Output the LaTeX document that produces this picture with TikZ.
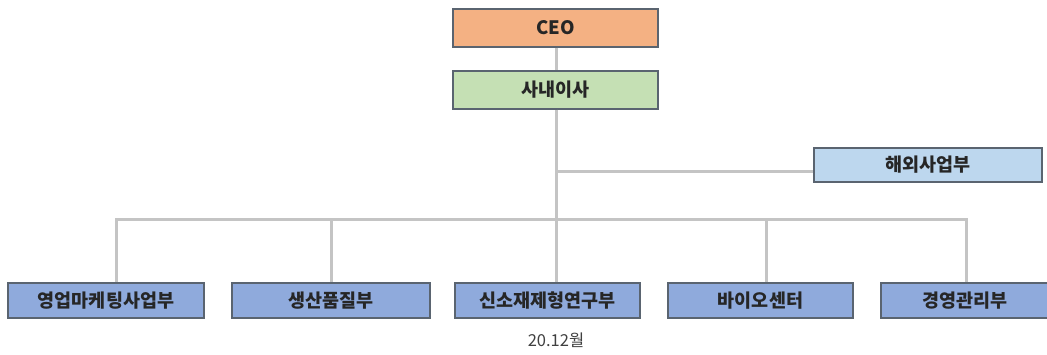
\documentclass[tikz,border=0pt]{standalone}
\usepackage{fontspec}
\setmainfont{Noto Sans CJK KR}
\usepackage{tikz}
\usetikzlibrary{positioning,calc}
\definecolor{ceofill}{HTML}{F4B183}
\definecolor{boardfill}{HTML}{C5E0B4}
\definecolor{overfill}{HTML}{BDD7EE}
\definecolor{deptfill}{HTML}{8FAADC}
\definecolor{boxline}{HTML}{5A6470}
\definecolor{linkgray}{HTML}{C4C4C4}
\definecolor{notegray}{HTML}{404040}

\begin{document}
\begin{tikzpicture}[x=1pt,y=-1pt,
    orgbox/.style={draw=boxline,line width=1.3pt,inner sep=0pt,
      font=\fontsize{18.5}{20}\selectfont\bfseries,text=black!85},
    deptbox/.style={orgbox,fill=deptfill,minimum height=35pt},
    link/.style={draw=linkgray,line width=3pt}]
        \useasboundingbox (0,0) rectangle (1047,354);
        % top of the chart
        \node[orgbox,fill=ceofill,minimum width=205pt,minimum height=38pt] (ceo) at (555.5,28) {CEO};
        \node[orgbox,fill=boardfill,minimum width=205pt,minimum height=38pt] (board) at (555.5,90) {사내이사};
        \node[orgbox,fill=overfill,minimum width=228pt,minimum height=34pt] (over) at (928,165) {해외사업부};
        % departments
        \node[deptbox,minimum width=196pt] (dA) at (106,300.5) {영업마케팅사업부};
        \node[deptbox,minimum width=198pt] (dB) at (331,300.5) {생산품질부};
        \node[deptbox,minimum width=185pt] (dC) at (547.5,300.5) {신소재제형연구부};
        \node[deptbox,minimum width=185pt] (dD) at (760.5,300.5) {바이오센터};
        \node[deptbox,minimum width=168pt] (dE) at (965,300.5) {경영관리부};
        \node[font=\fontsize{16.5}{18}\selectfont,text=notegray] (date) at (556,340) {20.12월};
        % connectors
        \coordinate (mid) at (556,171);
        \coordinate (barL) at (116,219);
        \coordinate (barD) at (766,219);
        \coordinate (barR) at (966,219);
        \draw[link] (ceo.south -| mid) -- (board.north -| mid);
        \draw[link] (board.south -| mid) -- (dC.north -| mid);
        \draw[link] (mid) -- (mid -| over.west);
        \draw[link,line cap=rect] (barL) -- (barR);
        \draw[link] (barL) -- (barL |- dA.north);
        \draw[link] (barL -| dB.north) -- (dB.north);
        \draw[link] (barD) -- (barD |- dD.north);
        \draw[link] (barR) -- (barR |- dE.north);
\end{tikzpicture}
\end{document}
